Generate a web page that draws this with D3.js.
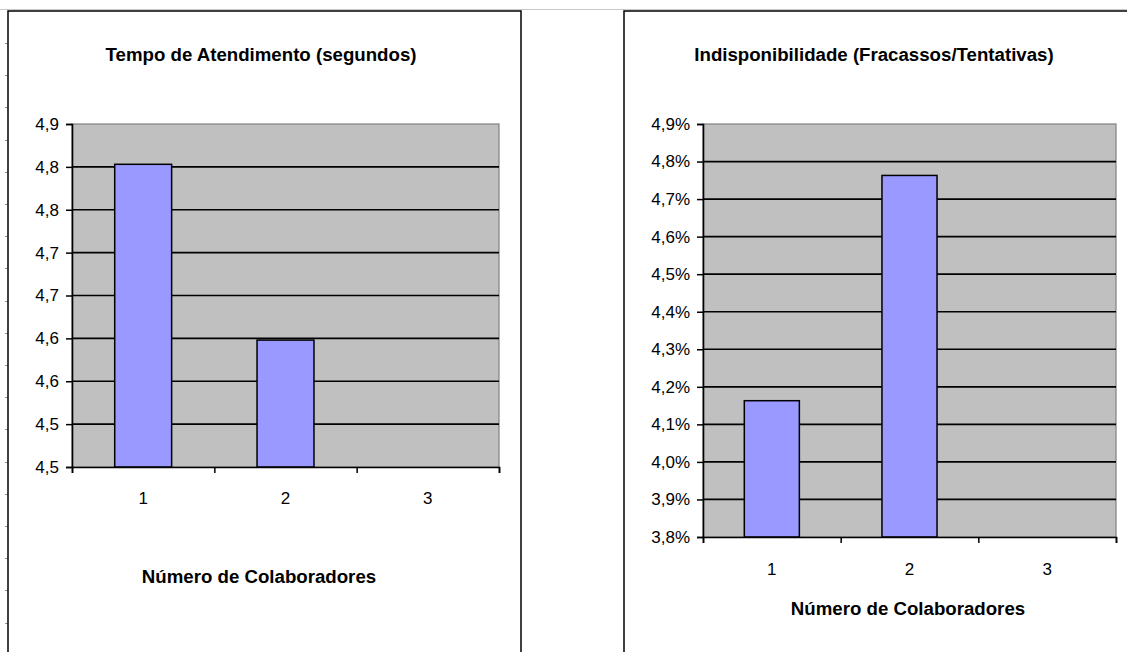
<!DOCTYPE html>
<html><head><meta charset="utf-8">
<script src="https://cdn.jsdelivr.net/npm/d3@7"></script>
<style>
html,body{margin:0;padding:0;background:#fff;overflow:hidden}
svg{display:block}
text{font-family:"Liberation Sans",Arial,sans-serif;fill:#000}
</style></head>
<body>
<svg id="c" width="1127" height="652"></svg>
<script>
// ---- data ----
const categories = ["1", "2", "3"];
const tempoValues = [4.853, 4.648, null];               // seconds
const tempoTicks = [4.5, 4.55, 4.6, 4.65, 4.7, 4.75, 4.8, 4.85, 4.9];
const tempoTickLabels = ["4,5", "4,5", "4,6", "4,6", "4,7", "4,7", "4,8", "4,8", "4,9"];
const indispValues = [4.163, 4.763, null];              // percent
const indispTicks = [3.8, 3.9, 4.0, 4.1, 4.2, 4.3, 4.4, 4.5, 4.6, 4.7, 4.8, 4.9];
const indispTickLabels = ["3,8%", "3,9%", "4,0%", "4,1%", "4,2%", "4,3%", "4,4%", "4,5%", "4,6%", "4,7%", "4,8%", "4,9%"];
const titleTempo = "Tempo de Atendimento (segundos)";
const titleIndisp = "Indisponibilidade (Fracassos/Tentativas)";
const xTitle = "Número de Colaboradores";

const svg = d3.select("#c");

// page decorations
svg.append("line").attr("x1", 0).attr("x2", 1127).attr("y1", 9.5).attr("y2", 9.5)
  .attr("stroke", "#c8c8c8").attr("stroke-width", 1);
svg.selectAll(".rule").data(d3.range(43, 652, 32.2)).enter().append("line")
  .attr("x1", 5).attr("x2", 8).attr("y1", d => Math.round(d) + 0.5).attr("y2", d => Math.round(d) + 0.5)
  .attr("stroke", "#9a9a9a").attr("stroke-width", 1);

function panel(cfg) {
  const g = svg.append("g");
  // frame
  g.append("rect").attr("x", cfg.px).attr("y", 11).attr("width", cfg.pw).attr("height", 700)
    .attr("fill", "#fff").attr("stroke", "#000").attr("stroke-width", 1.5);

  const x = d3.scaleBand().domain(categories).range([cfg.x0, cfg.x1]).paddingInner(0).paddingOuter(0);
  const xb = d3.scaleLinear().domain([0, categories.length]).range([cfg.x0, cfg.x1]);
  const y = d3.scaleLinear().domain(cfg.domain).range([cfg.y1, cfg.y0]);

  // plot background
  g.append("rect").attr("x", cfg.x0).attr("y", cfg.y0).attr("width", cfg.x1 - cfg.x0).attr("height", cfg.y1 - cfg.y0)
    .attr("fill", "#c0c0c0").attr("stroke", "#808080").attr("stroke-width", 1.2);

  // gridlines
  g.selectAll(".grid").data(cfg.ticks.slice(1, -1)).enter().append("line")
    .attr("x1", cfg.x0).attr("x2", cfg.x1).attr("y1", d => y(d)).attr("y2", d => y(d))
    .attr("stroke", "#000").attr("stroke-width", 1.7);

  // bars
  const bw = x.bandwidth() * 0.4;
  g.selectAll(".bar").data(cfg.values.map((v, i) => ({c: categories[i], v})).filter(d => d.v != null))
    .enter().append("rect")
    .attr("x", d => x(d.c) + (x.bandwidth() - bw) / 2)
    .attr("y", d => y(d.v))
    .attr("width", bw)
    .attr("height", d => y(cfg.domain[0]) - y(d.v))
    .attr("fill", "#9999ff").attr("stroke", "#000").attr("stroke-width", 1.5);

  // y axis
  const ya = g.append("g").attr("transform", `translate(${cfg.x0},0)`)
    .call(d3.axisLeft(y).tickValues(cfg.ticks).tickFormat((d, i) => cfg.labels[i]).tickSizeOuter(0).tickSize(6).tickPadding(7));
  ya.select(".domain").attr("stroke", "#000").attr("stroke-width", 1.6);
  ya.selectAll(".tick line").attr("stroke", "#000").attr("stroke-width", 1.5);
  ya.selectAll(".tick text").style("font-size", "17px").style("font-family", '"Liberation Sans",Arial,sans-serif').attr("fill", "#000");

  // x axis (ticks at category boundaries)
  const xa = g.append("g").attr("transform", `translate(0,${cfg.y1})`)
    .call(d3.axisBottom(xb).tickValues(d3.range(0, categories.length + 1)).tickFormat("").tickSizeOuter(0).tickSize(6));
  xa.select(".domain").attr("stroke", "#000").attr("stroke-width", 1.6);
  xa.selectAll(".tick line").attr("stroke", "#000").attr("stroke-width", 1.5);
  // category labels
  const xl = g.append("g").attr("transform", `translate(0,${cfg.xLabelY})`)
    .call(d3.axisBottom(x).tickSize(0).tickPadding(0));
  xl.select(".domain").remove();
  xl.selectAll(".tick text").attr("dy", 0).attr("y", 0).style("font-size", "17px")
    .style("font-family", '"Liberation Sans",Arial,sans-serif').attr("fill", "#000");

  // titles
  g.append("text").attr("x", cfg.titleX).attr("y", 61).attr("text-anchor", "middle")
    .style("font-size", "18.67px").style("font-weight", "bold").text(cfg.title);
  g.append("text").attr("x", cfg.xTitleX).attr("y", cfg.xTitleY).attr("text-anchor", "middle")
    .style("font-size", "18.67px").style("font-weight", "bold").text(xTitle);
}

panel({px: 8, pw: 513, x0: 72, x1: 499, y0: 124, y1: 467,
  domain: [4.5, 4.9], ticks: tempoTicks, labels: tempoTickLabels, values: tempoValues,
  title: titleTempo, titleX: 261, xLabelY: 504, xTitleX: 259, xTitleY: 583});

panel({px: 624, pw: 600, x0: 703, x1: 1116, y0: 124, y1: 537,
  domain: [3.8, 4.9], ticks: indispTicks, labels: indispTickLabels, values: indispValues,
  title: titleIndisp, titleX: 874, xLabelY: 575, xTitleX: 908, xTitleY: 615});
</script>
</body></html>
